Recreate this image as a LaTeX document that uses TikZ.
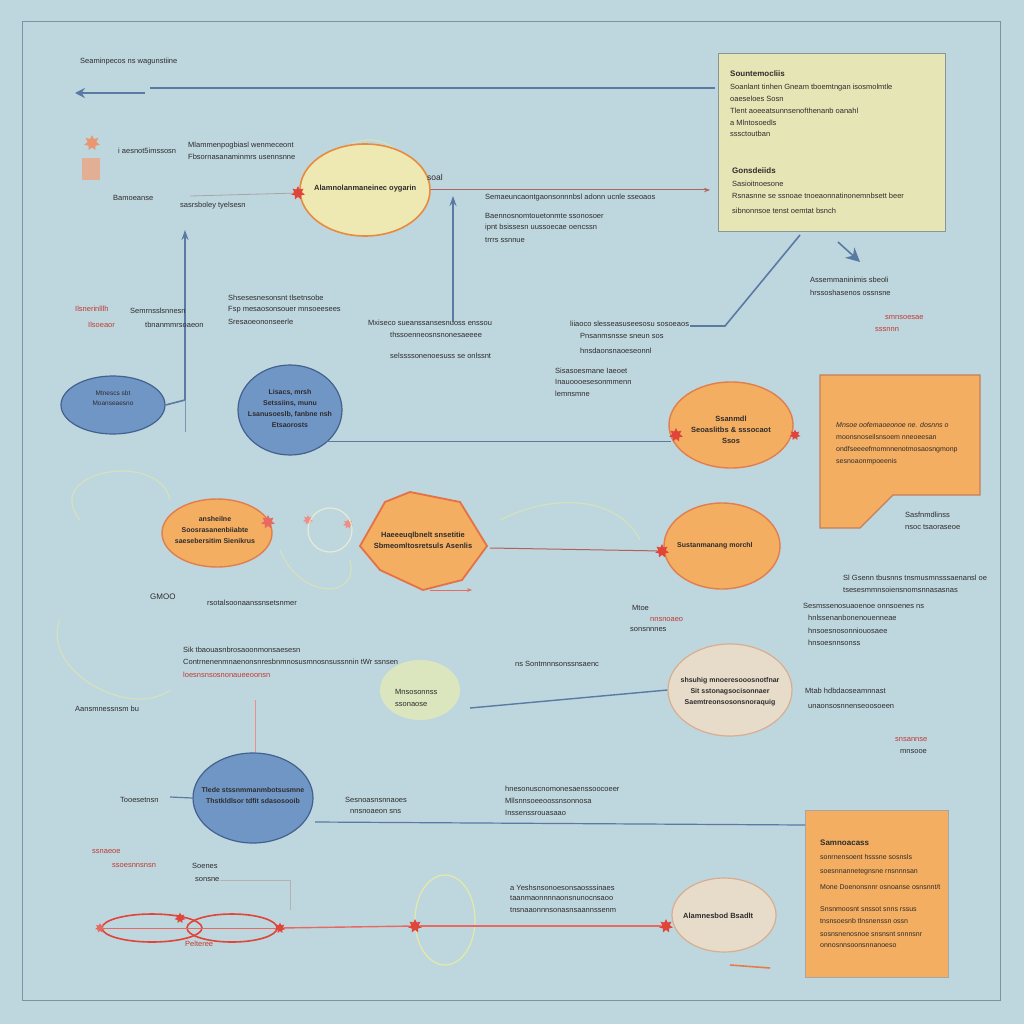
\documentclass[tikz,border=0pt]{standalone}
\usepackage{fontspec}
\setmainfont{Liberation Sans}
\usetikzlibrary{shapes.geometric,arrows.meta,calc}
\definecolor{bg}{HTML}{BED6DE}
\definecolor{frameC}{HTML}{7C93A6}
\definecolor{blueL}{HTML}{5A7AA3}
\definecolor{blueF}{HTML}{7096C6}
\definecolor{blueD}{HTML}{43618E}
\definecolor{yboxF}{HTML}{E6E5B6}
\definecolor{yboxD}{HTML}{8C9595}
\definecolor{orF}{HTML}{F3AE62}
\definecolor{orD}{HTML}{E27D4C}
\definecolor{pyF}{HTML}{EEE8B2}
\definecolor{pyD}{HTML}{E88B3E}
\definecolor{beF}{HTML}{E7DCC9}
\definecolor{beD}{HTML}{D8AE90}
\definecolor{redC}{HTML}{E0453A}
\definecolor{txtC}{HTML}{2E2C2C}
\begin{document}
\begin{tikzpicture}[x=1pt,y=-1pt,
  txt/.style={font=\fontsize{7.5}{9}\selectfont, text=txtC, anchor=west, inner sep=0pt},
  ctxt/.style={font=\fontsize{7.5}{11}\selectfont\bfseries, text=txtC, align=center, inner sep=0pt},
  rtxt/.style={txt, text=redC!85!black},
  bline/.style={draw=blueL, line width=1.6pt},
  thin/.style={draw=blueL!80, line width=0.8pt},
  rline/.style={draw=redC!80, line width=1pt},
  blueell/.style={ellipse, draw=blueD, fill=blueF, line width=1.2pt},
  orell/.style={ellipse, draw=orD, fill=orF, line width=1.4pt},
  beell/.style={ellipse, draw=beD, fill=beF, line width=1.2pt},
  splash/.style={star, star points=7, star point ratio=1.8, fill=redC, inner sep=0pt, minimum size=14pt},
  halo/.style={draw=yellow!50!white, line width=1.2pt, opacity=0.35}
]
\fill[bg] (0,0) rectangle (1024,1024);
\useasboundingbox (0,0) rectangle (1024,1024);
\draw[frameC, line width=1pt] (22,22) rectangle (1000,1000);

% faint halos
\draw[halo] (330,170) .. controls (340,130) and (400,130) .. (405,170);
\draw[halo] (80,520) .. controls (40,470) and (160,450) .. (170,500);
\draw[halo] (280,550) .. controls (300,600) and (360,600) .. (350,560);
\draw[halo] (500,520) .. controls (560,490) and (620,500) .. (640,540);
\draw[halo] (60,620) .. controls (40,670) and (130,720) .. (170,690);
\fill[yellow!40!white, opacity=0.45] (420,690) ellipse (40 and 30);
\draw[halo, opacity=0.6] (445,920) ellipse (30 and 45);

% ===== top row =====
\node[txt] (t0) at (80,62) {Seaminpecos ns wagunstiine};
\coordinate (topR) at (715,88);
\coordinate (topL) at (75,93);
\coordinate (topM) at (150,88);
\draw[bline] (topR) -- (topM);
\draw[bline, -{Stealth[length=10pt,width=10pt]}] (145,93) -- (topL);

% yellow box
\node[draw=yboxD, fill=yboxF, line width=1.2pt, minimum width=227pt, minimum height=178pt, anchor=north west, inner sep=0pt] (ybox) at (718,53) {};
\node[txt, font=\fontsize{8}{9}\selectfont\bfseries] (yb1) at (730,74) {Sountemocliis};
\node[txt] (yb2) at (730,88) {Soanlant tinhen Gneam tboemtngan isosmolmtle};
\node[txt] (yb3) at (730,99) {oaeseloes Sosn};
\node[txt] (yb4) at (730,111) {Tlent aoeeatsunnsenofthenanb oanahl};
\node[txt] (yb5) at (730,123) {a Mlntosoedls};
\node[txt] (yb6) at (730,134) {sssctoutban};
\node[txt, font=\fontsize{8}{9}\selectfont\bfseries] (yb7) at (732,171) {Gonsdeiids};
\node[txt] (yb8) at (732,184) {Sasioitnoesone};
\node[txt] (yb9) at (732,196) {Rsnasnne se ssnoae tnoeaonnatinonemnbsett beer};
\node[txt] (yb10) at (732,211) {sibnonnsoe tenst oemtat bsnch};

% left icons
\node[splash, fill=orD!80, minimum size=16pt] (ic1) at (92,143) {};
\fill[orD!70, opacity=0.8] (82,158) rectangle (100,180);
\node[txt] (t1) at (118,151) {i aesnot5imssosn};
\node[txt] (t2) at (188,146) {Mlammenpogbiasl wenmeceont};
\node[txt] (t3) at (188,157) {Fbsornasanaminmrs usennsnne};
\node[txt] (t4) at (113,198) {Bamoeanse};
\node[txt] (t5) at (180,206) {sasrsboley  tyelsesn};

% pale yellow ellipse
\node[ellipse, draw=pyD, fill=pyF, line width=1.6pt, minimum width=130pt, minimum height=92pt] (py) at (365,190) {};
\node[splash] (sp1) at (298,193) {};
\node[txt, font=\fontsize{7.5}{9}\selectfont\bfseries] (pyt) at (314,189) {Alamnolanmaneinec oygarin};
\node[txt, font=\fontsize{8.5}{9}\selectfont] (soal) at (427,177) {soal};
\coordinate (pyL) at (190,196);
\coordinate (pyR) at (710,190);
\draw[draw=gray!70, line width=0.8pt] (pyL) -- (sp1);
\draw[rline, draw=redC!50!gray, -{Stealth[length=6pt]}] (py.east) -- (pyR);
\node[txt] (t6) at (485,198) {Semaeuncaontgaonsonnnbsl adonn ucnle sseoaos};
\node[txt] (t7) at (485,216) {Baennosnomtouetonmte ssonosoer};
\node[txt] (t8) at (485,228) {ipnt bsissesn uussoecae oencssn};
\node[txt] (t9) at (485,240) {trrrs ssnnue};

% vertical blue arrows
\coordinate (va1) at (453,322);
\coordinate (va1t) at (453,196);
\draw[bline, -{Stealth[length=10pt,width=7pt]}] (va1) -- (va1t);

% blue ellipse left
\node[blueell, minimum width=104pt, minimum height=58pt] (bl) at (113,405) {};
\node[ctxt, font=\fontsize{6.5}{10}\selectfont] (blt) at (113,398) {Mtnescs sbt\\Moanseaesno};
\coordinate (blA) at (185,230);
\draw[bline, -{Stealth[length=10pt,width=7pt]}] (bl.east) -- (185,400) -- (blA);
\draw[thin] (185,400) -- (185,432);

% texts middle band
\node[txt] (t10) at (228,298) {Shsesesnesonsnt tlsetnsobe};
\node[txt] (t11) at (228,310) {Fsp mesaosonsouer mnsoeesees};
\node[txt] (t12) at (228,322) {Sresaoeononseerle};
\node[rtxt] (t13) at (75,309) {Ilsnerinlllh};
\node[txt] (t14) at (130,311) {Semrnsslsnnesn};
\node[rtxt] (t15) at (88,325) {Ilsoeaor};
\node[txt] (t16) at (145,325) {tbnanmmrsoaeon};
\node[txt] (t17) at (368,323) {Mxiseco sueanssansesnuoss enssou};
\node[txt] (t18) at (390,335) {thssoenneosnsnonesaeeee};
\node[txt] (t19) at (390,356) {selssssonenoesuss se onlssnt};
\node[txt] (t20) at (570,324) {liiaoco slesseasuseesosu sosoeaos};
\node[txt] (t21) at (580,336) {Pnsanmsnsse sneun sos};
\node[txt] (t22) at (580,351) {hnsdaonsnaoeseonnl};

% diagonal and arrowhead top right
\coordinate (dg1) at (690,326);
\coordinate (dg2) at (725,326);
\coordinate (dg3) at (800,235);
\draw[bline] (dg1) -- (dg2) -- (dg3);
\coordinate (ah1) at (838,242);
\coordinate (ah2) at (860,262);
\draw[bline, -{Stealth[length=14pt,width=14pt]}] (ah1) -- (ah2);
\node[txt] (t23) at (810,280) {Assemmaninimis sbeoli};
\node[txt] (t24) at (810,293) {hrssoshasenos ossnsne};
\node[rtxt] (t25) at (885,318) {smnsoesae};
\node[rtxt] (t26) at (875,330) {sssnnn};

% blue ellipse center
\node[blueell, minimum width=104pt, minimum height=90pt] (bc) at (290,410) {};
\node[ctxt, font=\fontsize{7}{11}\selectfont\bfseries] (bct) at (290,408) {Lisacs, mrsh\\Setssiins, munu\\Lsanusoeslb, fanbne nsh\\Etsaorosts};

% orange ellipse right
\node[orell, minimum width=124pt, minimum height=86pt] (or1) at (731,425) {};
\node[ctxt] (or1t) at (731,430) {Ssanmdl\\Seoaslitbs \& sssocaot\\Ssos};
\node[splash] (sp2) at (676,435) {};
\node[splash, minimum size=11pt] (sp3) at (795,435) {};
\draw[bline, line width=1.4pt] (bc.south east) ++(0,-1) coordinate (bcs) -- (bcs -| sp2.west);
\node[txt] (t27) at (555,371) {Sisasoesmane Iaeoet};
\node[txt] (t28) at (555,382) {Inauoooesesonmmenn};
\node[txt] (t29) at (555,394) {lemnsmne};

% orange notched box
\draw[draw=orD!70!gray, fill=orF, line width=1.2pt] (820,375) -- (980,375) -- (980,495) -- (893,495) -- (860,528) -- (820,528) -- cycle;
\node[txt, font=\fontsize{7}{9}\selectfont\itshape] (ob1) at (836,425) {Mnsoe oofemaoeonoe ne. dosnns o};
\node[txt, font=\fontsize{7}{9}\selectfont] (ob2) at (836,437) {moonsnoseilsnsoem nneoeesan};
\node[txt, font=\fontsize{7}{9}\selectfont] (ob3) at (836,450) {ondfseeeefmomnnenotmosaosngmonp};
\node[txt, font=\fontsize{7}{9}\selectfont] (ob4) at (836,462) {sesnoaonmpoeenis};
\node[txt] (t30) at (905,515) {Sasfnmdlinss};
\node[txt] (t31) at (905,527) {nsoc tsaoraseoe};

% leaf ellipse
\node[orell, minimum width=110pt, minimum height=68pt] (lf) at (217,533) {};
\node[ctxt, font=\fontsize{7}{11}\selectfont\bfseries] (lft) at (215,530) {ansheilne\\Soosrasanenbiiabte\\saesebersitim Sienikrus};
\node[splash, fill=redC!80] (sp4) at (268,522) {};
\node[splash, fill=redC!60, minimum size=10pt] (sp5) at (308,520) {};
\node[splash, fill=redC!60, minimum size=10pt] (sp6) at (348,524) {};
\draw[halo, draw=white!80!yellow, opacity=0.6] (330,530) circle (22);

% hexagon
\draw[draw=orD!90!red, fill=orF, line width=1.8pt] (360,546) -- (385,502) -- (410,492) -- (460,502) -- (487,546) -- (462,580) -- (423,590) -- (380,570) -- cycle;
\node[ctxt] (hx) at (423,540) {Haeeeuqlbnelt snsetitie\\Sbmeomltosretsuls Asenlis};
\coordinate (hxA) at (430,590);
\coordinate (hxB) at (472,590);
\draw[rline, -{Stealth[length=5pt]}] (hxA) -- (hxB);

% orange ellipse 2
\node[orell, minimum width=116pt, minimum height=86pt] (or2) at (722,546) {};
\node[txt, font=\fontsize{7}{9}\selectfont\bfseries] (or2t) at (677,546) {Sustanmanang morchl};
\node[splash] (sp7) at (662,551) {};
\coordinate (hxR) at (490,548);
\draw[rline, draw=redC!50!gray] (hxR) -- (sp7);

% row texts
\node[txt, font=\fontsize{8}{9}\selectfont] (t32) at (150,597) {GMOO};
\node[txt] (t33) at (207,603) {rsotalsoonaanssnsetsnmer};
\node[txt] (t34) at (843,578) {Sl Gsenn tbusnns tnsmusmnsssaenansl oe};
\node[txt] (t35) at (843,590) {tsesesmmnsoiensnomsnnasasnas};
\node[txt] (t36) at (803,606) {Sesmssenosuaoenoe onnsoenes ns};
\node[txt] (t37) at (808,618) {hnlssenanbonenouenneae};
\node[txt] (t38) at (808,631) {hnsoesnosonniouosaee};
\node[txt] (t39) at (808,643) {hnsoesnnsonss};
\node[txt] (t40) at (632,608) {Mtoe};
\node[rtxt] (t41) at (650,620) {nnsnoaeo};
\node[txt] (t42) at (630,630) {sonsnnnes};

\node[txt] (t43) at (183,650) {Sik tbaouasnbrosaoonmonsaesesn};
\node[txt] (t44) at (183,662) {Contrnenenmnaenonsnresbnmnosusmnosnsussnnin tWr ssnsen};
\node[rtxt] (t45) at (183,675) {loesnsnsosnonaueeoonsn};
\node[txt] (t46) at (515,664) {ns  Sontmnnsonssnsaenc};
\node[txt] (t47) at (75,709) {Aansmnessnsm bu};
\node[txt] (t48) at (395,692) {Mnsosonnss};
\node[txt] (t49) at (395,705) {ssonaose};

% beige ellipse
\node[beell, minimum width=124pt, minimum height=92pt] (be1) at (730,690) {};
\node[ctxt, font=\fontsize{7}{11}\selectfont\bfseries] (be1t) at (730,692) {shsuhig mnoeresooosnotfnar\\Sit sstonagsocisonnaer\\Saemtreonsosonsnoraquig};
\coordinate (be1L) at (470,708);
\draw[bline, line width=1.4pt] (be1L) -- (be1.west);
\node[txt] (t50) at (805,691) {Mtab hdbdaoseamnnast};
\node[txt] (t51) at (808,707) {unaonsosnnenseoosoeen};
\node[rtxt] (t52) at (895,740) {snsannse};
\node[txt] (t53) at (900,752) {mnsooe};

% blue ellipse bottom
\node[blueell, minimum width=120pt, minimum height=90pt] (bb) at (253,798) {};
\node[ctxt, font=\fontsize{7}{11}\selectfont\bfseries] (bbt) at (253,795) {Tlede stssnmmanmbotsusmne\\Thstkldlsor tdfit sdasosooib};
\coordinate (bbTop) at (255,700);
\draw[rline, draw=redC!60, line width=0.8pt] (bb.north) ++(2,0) -- (bbTop);
\coordinate (bbL) at (170,797);
\draw[bline, line width=1.2pt] (bbL) -- (bb.west);
\node[txt] (t54) at (120,800) {Tooesetnsn};
\node[txt] (t55) at (505,789) {hnesonuscnomonesaenssoocoeer};
\node[txt] (t56) at (505,801) {Mllsnnsoeeoossnsonnosa};
\node[txt] (t57) at (505,813) {Inssenssrouasaao};
\node[txt] (t58) at (345,800) {Sesnoasnsnnaoes};
\node[txt] (t59) at (350,812) {nnsnoaeon sns};

% orange box bottom
\node[draw=gray!70, fill=orF, line width=1.2pt, minimum width=143pt, minimum height=167pt, anchor=north west, inner sep=0pt] (ob) at (805,810) {};
\coordinate (obL) at (315,822);
\draw[bline, line width=1.2pt] (obL) -- (ob.west |- 0,825);
\node[txt, font=\fontsize{8}{9}\selectfont\bfseries] (obt1) at (820,843) {Samnoacass};
\node[txt, font=\fontsize{7}{9}\selectfont] (obt2) at (820,857) {sonrnensoent hsssne sosnsls};
\node[txt, font=\fontsize{7}{9}\selectfont] (obt3) at (820,872) {soesnnannetegnsne rnsnnnsan};
\node[txt, font=\fontsize{7}{9}\selectfont] (obt4) at (820,887) {Mone Doenonsnnr osnoanse osnsnnt/t};
\node[txt, font=\fontsize{7}{9}\selectfont] (obt5) at (820,909) {Snsnmoosnt snssot snns  rssus};
\node[txt, font=\fontsize{7}{9}\selectfont] (obt6) at (820,921) {tnsnsoesnb tlnsnenssn ossn};
\node[txt, font=\fontsize{7}{9}\selectfont] (obt7) at (820,934) {sosnsnenosnoe snsnsnt snnnsnr};
\node[txt, font=\fontsize{7}{9}\selectfont] (obt8) at (820,946) {onnosnnsoonsnnanoeso};

% bottom chain
\node[rtxt] (t60) at (92,852) {ssnaeoe};
\node[rtxt] (t61) at (112,866) {ssoesnnsnsn};
\node[txt] (t62) at (192,866) {Soenes};
\node[txt] (t63) at (195,880) {sonsne};
\node[ellipse, draw=redC, line width=1.6pt, minimum width=100pt, minimum height=28pt] (ch1) at (152,928) {};
\node[ellipse, draw=redC, line width=1.6pt, minimum width=90pt, minimum height=28pt] (ch2) at (232,928) {};
\node[splash, minimum size=11pt] (sp8) at (180,918) {};
\node[splash, minimum size=11pt] (sp9) at (280,928) {};
\node[splash, fill=redC!80, minimum size=10pt] (sp10) at (100,928) {};
\node[splash] (sp11) at (415,926) {};
\node[splash] (sp12) at (666,926) {};
\node[beell, minimum width=104pt, minimum height=74pt] (be2) at (724,915) {};
\node[txt, font=\fontsize{7.5}{9}\selectfont\bfseries] (be2t) at (683,916) {Alamnesbod Bsadlt};
\draw[rline, line width=1.4pt] (sp9) -- (sp11);
\draw[rline, line width=1.4pt] (sp11) -- (sp12);
\draw[rline, line width=1pt] (sp10) -- (sp9);
\node[rtxt] (t64) at (185,944) {Pelteree};
\node[txt] (t65) at (510,888) {a Yeshsnsonoesonsaosssinaes};
\node[txt] (t66) at (510,898) {taanmaonnnnaonsnunocnsaoo};
\node[txt] (t67) at (510,910) {tnsnaaonnnsonasnsaannssenm};
\coordinate (rA) at (290,880);
\draw[draw=gray!60, line width=0.6pt] (t63.east) -| (rA) -- (290,910);
\coordinate (sm1) at (730,965);
\coordinate (sm2) at (770,968);
\draw[draw=orD, line width=1.6pt] (sm1) -- (sm2);
\end{tikzpicture}
\end{document}
